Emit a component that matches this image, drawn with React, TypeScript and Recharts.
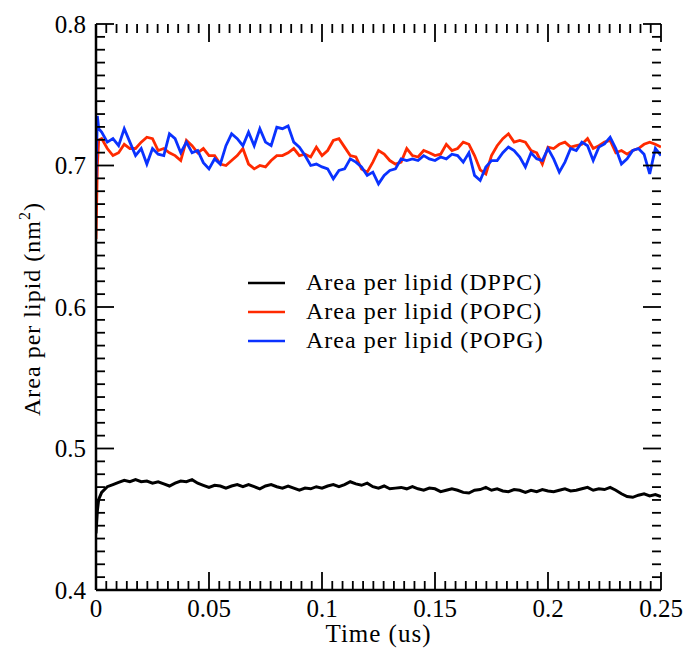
import React from 'react';
import { LineChart, Line, XAxis, YAxis, Legend } from 'recharts';

const FONT = '"Liberation Serif", "Times New Roman", Times, serif';

const X_MAJOR = [0, 0.05, 0.1, 0.15, 0.2, 0.25];
const X_LABELS = ['0', '0.05', '0.1', '0.15', '0.2', '0.25'];
const Y_MAJOR = [0.4, 0.5, 0.6, 0.7, 0.8];
const Y_LABELS = ['0.4', '0.5', '0.6', '0.7', '0.8'];
const N_MINOR = 10;

const SERIES_NAMES = ['Area per lipid (DPPC)', 'Area per lipid (POPC)', 'Area per lipid (POPG)'];
const SERIES_COLORS = ['#000000', '#ff2a00', '#0a32ff'];

const TIME = [0, 0.0006, 0.0012, 0.0025, 0.005, 0.0075, 0.01, 0.0125, 0.015, 0.0175, 0.02, 0.0225, 0.025, 0.0275, 0.03, 0.0325, 0.035, 0.0375, 0.04, 0.0425, 0.045, 0.0475, 0.05, 0.0525, 0.055, 0.0575, 0.06, 0.0625, 0.065, 0.0675, 0.07, 0.0725, 0.075, 0.0775, 0.08, 0.0825, 0.085, 0.0875, 0.09, 0.0925, 0.095, 0.0975, 0.1, 0.1025, 0.105, 0.1075, 0.11, 0.1125, 0.115, 0.1175, 0.12, 0.1225, 0.125, 0.1275, 0.13, 0.1325, 0.135, 0.1375, 0.14, 0.1425, 0.145, 0.1475, 0.15, 0.1525, 0.155, 0.1575, 0.16, 0.1625, 0.165, 0.1675, 0.17, 0.1725, 0.175, 0.1775, 0.18, 0.1825, 0.185, 0.1875, 0.19, 0.1925, 0.195, 0.1975, 0.2, 0.2025, 0.205, 0.2075, 0.21, 0.2125, 0.215, 0.2175, 0.22, 0.2225, 0.225, 0.2275, 0.23, 0.2325, 0.235, 0.2375, 0.24, 0.2425, 0.245, 0.2475, 0.25];

const DPPC = [0.440, 0.456, 0.464,
  0.469, 0.473, 0.4745, 0.476, 0.4775, 0.4765, 0.478, 0.4765, 0.477, 0.4755,
  0.4765, 0.475, 0.4735, 0.4755, 0.477, 0.4765, 0.478, 0.4755, 0.474, 0.4725,
  0.474, 0.4735, 0.472, 0.4735, 0.4745, 0.473, 0.4745, 0.473, 0.4715, 0.4735,
  0.4745, 0.473, 0.472, 0.4735, 0.472, 0.4705, 0.472, 0.4715, 0.473, 0.472,
  0.4735, 0.4745, 0.473, 0.4745, 0.4765, 0.475, 0.474, 0.4755, 0.473, 0.472,
  0.4735, 0.4715, 0.472, 0.4725, 0.4715, 0.473, 0.4715, 0.4705, 0.472, 0.4715,
  0.4695, 0.4705, 0.4715, 0.4705, 0.469, 0.4685, 0.4705, 0.471, 0.4725, 0.4705,
  0.4715, 0.470, 0.4695, 0.471, 0.4705, 0.469, 0.4705, 0.4695, 0.471, 0.470,
  0.4695, 0.4705, 0.4715, 0.470, 0.4705, 0.4715, 0.4725, 0.4705, 0.4715, 0.471,
  0.4725, 0.4705, 0.468, 0.466, 0.4655, 0.467, 0.468, 0.4665, 0.4675, 0.466];

const POPC = [0.648, 0.700, 0.718,
  0.719, 0.712, 0.707, 0.709, 0.715, 0.712, 0.712, 0.7165, 0.720, 0.719,
  0.7106, 0.712, 0.709, 0.707, 0.7035, 0.7177, 0.714, 0.709, 0.712, 0.707,
  0.707, 0.701, 0.700, 0.7035, 0.707, 0.712, 0.701, 0.6976, 0.700, 0.699,
  0.7035, 0.707, 0.707, 0.709, 0.712, 0.707, 0.708, 0.706, 0.713, 0.707,
  0.7106, 0.7177, 0.719, 0.713, 0.707, 0.706, 0.6976, 0.6953, 0.7024, 0.7106,
  0.708, 0.7035, 0.701, 0.7024, 0.712, 0.707, 0.706, 0.7106, 0.709, 0.707,
  0.708, 0.715, 0.7106, 0.712, 0.7165, 0.715, 0.707, 0.697, 0.694, 0.707,
  0.714, 0.719, 0.7224, 0.7165, 0.7177, 0.7165, 0.7106, 0.709, 0.701, 0.713,
  0.712, 0.715, 0.7165, 0.713, 0.714, 0.715, 0.719, 0.712, 0.714, 0.7165,
  0.7177, 0.709, 0.7106, 0.708, 0.7106, 0.712, 0.715, 0.7165, 0.715, 0.713];

const POPG = [0.690, 0.735, 0.726,
  0.7236, 0.7165, 0.719, 0.714, 0.726, 0.7165, 0.707, 0.712, 0.701, 0.712,
  0.708, 0.707, 0.7224, 0.719, 0.709, 0.7165, 0.709, 0.7106, 0.702, 0.6976,
  0.7047, 0.701, 0.714, 0.7224, 0.719, 0.714, 0.7236, 0.714, 0.726, 0.7165,
  0.714, 0.727, 0.726, 0.728, 0.7165, 0.713, 0.707, 0.700, 0.701, 0.699,
  0.6976, 0.6906, 0.6965, 0.6976, 0.7047, 0.7024, 0.699, 0.693, 0.6953, 0.687,
  0.693, 0.6965, 0.6976, 0.7047, 0.7035, 0.7047, 0.7035, 0.707, 0.7047, 0.7035,
  0.706, 0.7047, 0.708, 0.707, 0.7024, 0.709, 0.693, 0.6894, 0.699, 0.7035,
  0.7035, 0.709, 0.713, 0.7106, 0.706, 0.699, 0.709, 0.7047, 0.7035, 0.712,
  0.7047, 0.6953, 0.7024, 0.712, 0.7106, 0.7165, 0.714, 0.7035, 0.713, 0.7153,
  0.720, 0.712, 0.701, 0.7047, 0.7106, 0.712, 0.708, 0.694, 0.712, 0.707];

const data = TIME.map((t, i) => ({ t, dppc: DPPC[i], popc: POPC[i], popg: POPG[i] }));

function withMinor(major: number[]): number[] {
  const out: number[] = [];
  for (let i = 0; i < major.length; i++) {
    out.push(major[i]);
    if (i < major.length - 1) {
      const step = (major[i + 1] - major[i]) / (N_MINOR + 1);
      for (let j = 1; j <= N_MINOR; j++) out.push(major[i] + j * step);
    }
  }
  return out;
}
const X_TICKS = withMinor(X_MAJOR);
const Y_TICKS = withMinor(Y_MAJOR);

// plot geometry
const W = 689;
const H = 649;
const M_TOP = 24;
const M_RIGHT = 28;
const X_AXIS_H = 59;
const Y_AXIS_W = 96;
const PLOT_W = W - M_RIGHT - Y_AXIS_W;
const PLOT_H = H - M_TOP - X_AXIS_H;

const MAJOR_LEN = 18;
const MINOR_LEN = 9;
const TICK_W = 1.8;
const TICK_FONT = 25;

const majorIdx = (arr: number[], v: number) => arr.findIndex((m) => Math.abs(m - v) < 1e-9);

const BottomTick = (props: any) => {
  const { x, y, payload } = props;
  const mi = majorIdx(X_MAJOR, payload.value);
  const len = mi >= 0 ? MAJOR_LEN : MINOR_LEN;
  const yTop = y - PLOT_H;
  return (
    <g>
      <line x1={x} x2={x} y1={y} y2={y - len} stroke="#000" strokeWidth={TICK_W} />
      <line x1={x} x2={x} y1={yTop} y2={yTop + len} stroke="#000" strokeWidth={TICK_W} />
      {mi >= 0 && (
        <text x={x} y={y + 27} textAnchor="middle" fontSize={TICK_FONT} fontFamily={FONT} fill="#000">
          {X_LABELS[mi]}
        </text>
      )}
    </g>
  );
};

const LeftTick = (props: any) => {
  const { x, y, payload } = props;
  const mi = majorIdx(Y_MAJOR, payload.value);
  const len = mi >= 0 ? MAJOR_LEN : MINOR_LEN;
  const xRight = x + PLOT_W;
  return (
    <g>
      <line x1={x} x2={x + len} y1={y} y2={y} stroke="#000" strokeWidth={TICK_W} />
      <line x1={xRight} x2={xRight - len} y1={y} y2={y} stroke="#000" strokeWidth={TICK_W} />
      {mi >= 0 && (
        <text x={x - 10} y={y + 8.5} textAnchor="end" fontSize={TICK_FONT} fontFamily={FONT} fill="#000">
          {Y_LABELS[mi]}
        </text>
      )}
    </g>
  );
};

const AXIS_LINE = { stroke: '#000', strokeWidth: 2.5 };

const XTitle = (props: any) => {
  const vb = props.viewBox || { x: Y_AXIS_W, y: M_TOP + PLOT_H, width: PLOT_W, height: X_AXIS_H };
  return (
    <text x={vb.x + vb.width / 2} y={vb.y + 52} textAnchor="middle" fontSize={25} letterSpacing={1} fontFamily={FONT} fill="#000">
      Time (us)
    </text>
  );
};

const YTitle = () => {
  const cx = 40;
  const cy = 309;
  return (
    <text x={cx} y={cy} transform={`rotate(-90 ${cx} ${cy})`} textAnchor="middle" fontSize={24} letterSpacing={1} fontFamily={FONT} fill="#000">
      Area per lipid (nm<tspan dy={-10} fontSize={16}>2</tspan><tspan dy={10}>)</tspan>
    </text>
  );
};

const LegendContent = () => (
  <svg width={340} height={100} style={{ display: 'block' }}>
    {SERIES_NAMES.map((name, i) => {
      const ly = 23 + i * 29;
      return (
        <g key={name}>
          <line x1={8} x2={45} y1={ly} y2={ly} stroke={SERIES_COLORS[i]} strokeWidth={2.5} />
          <text x={66} y={ly + 7} fontSize={24} letterSpacing={1} fontFamily={FONT} fill="#000">
            {name}
          </text>
        </g>
      );
    })}
  </svg>
);

export default function App() {
  return (
    <div style={{ position: 'absolute', left: 0, top: 0, width: W, height: H, background: '#fff' }}>
      <LineChart width={W} height={H} data={data} margin={{ top: M_TOP, right: M_RIGHT, bottom: 0, left: 0 }}>
        <XAxis
          dataKey="t"
          type="number"
          domain={[0, 0.25]}
          ticks={X_TICKS}
          interval={0}
          height={X_AXIS_H}
          tickSize={0}
          tickMargin={0}
          tickLine={false}
          axisLine={AXIS_LINE}
          tick={BottomTick}
          allowDataOverflow
          label={{ content: XTitle }}
        />
        <XAxis
          xAxisId="top"
          orientation="top"
          dataKey="t"
          type="number"
          domain={[0, 0.25]}
          height={0}
          tickLine={false}
          axisLine={AXIS_LINE}
          tick={false}
          allowDataOverflow
        />
        <YAxis
          type="number"
          domain={[0.4, 0.8]}
          ticks={Y_TICKS}
          interval={0}
          width={Y_AXIS_W}
          tickSize={0}
          tickMargin={0}
          tickLine={false}
          axisLine={AXIS_LINE}
          tick={LeftTick}
          allowDataOverflow
          label={{ content: YTitle }}
        />
        <YAxis
          yAxisId="right"
          orientation="right"
          type="number"
          domain={[0.4, 0.8]}
          width={0}
          tickLine={false}
          axisLine={AXIS_LINE}
          tick={false}
          allowDataOverflow
        />
        <Legend
          layout="horizontal"
          verticalAlign="middle"
          align="center"
          wrapperStyle={{ left: 240, top: 260, width: 340, height: 100 }}
          content={LegendContent}
        />
        <Line dataKey="dppc" name={SERIES_NAMES[0]} stroke={SERIES_COLORS[0]} strokeWidth={3} dot={false} isAnimationActive={false} type="linear" />
        <Line dataKey="popc" name={SERIES_NAMES[1]} stroke={SERIES_COLORS[1]} strokeWidth={2.8} dot={false} isAnimationActive={false} type="linear" />
        <Line dataKey="popg" name={SERIES_NAMES[2]} stroke={SERIES_COLORS[2]} strokeWidth={2.8} dot={false} isAnimationActive={false} type="linear" />
      </LineChart>
    </div>
  );
}
